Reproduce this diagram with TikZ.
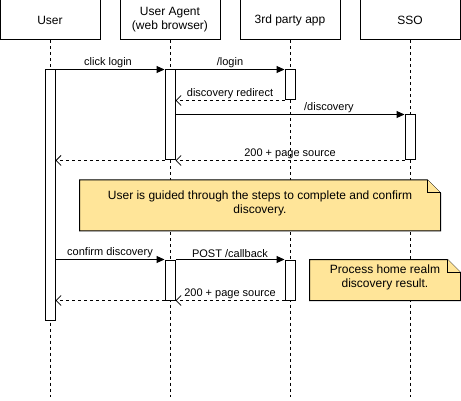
\documentclass[tikz,border=0pt]{standalone}
\usepackage{fontspec}
\setmainfont{Liberation Sans}
\usetikzlibrary{arrows.meta}
\definecolor{notefill}{HTML}{FFE599}
\begin{document}
\begin{tikzpicture}[x=1pt,y=-1pt,line width=1pt,
  actor/.style={draw, fill=white, minimum width=100pt, minimum height=40pt, inner sep=0pt, align=center, font=\fontsize{12}{14}\selectfont},
  act/.style={draw, fill=white, minimum width=10pt, inner sep=0pt},
  life/.style={dash pattern=on 3pt off 3pt},
  call/.style={-{Triangle[length=8pt,width=7pt]}},
  ret/.style={dash pattern=on 3pt off 3pt, -{Straight Barb[length=5pt,width=10pt,line width=0.8pt]}},
  lbl/.style={above, inner sep=1.5pt, font=\fontsize{11}{13}\selectfont},
  notebox/.style={inner sep=0pt, align=center, font=\fontsize{12}{14}\selectfont},
  noteshape/.style={draw, fill=notefill}
]
\useasboundingbox (0,0) rectangle (461,401);

% actors
\node[actor] (user) at (50,20) {User};
\node[actor] (ua) at (170,20) {User Agent\\(web browser)};
\node[actor] (app) at (290,20) {3rd party app};
\node[actor] (sso) at (410,20) {SSO};

% lifelines
\coordinate (userend) at (50,397);
\coordinate (uaend) at (170,397);
\coordinate (append) at (290,397);
\coordinate (ssoend) at (410,397);
\draw[life] (user.south) -- (userend);
\draw[life] (ua.south) -- (uaend);
\draw[life] (app.south) -- (append);
\draw[life] (sso.south) -- (ssoend);

% activations
\node[act, minimum height=250pt] (uact) at (50,195) {};
\node[act, minimum height=90pt] (ua1) at (170,115) {};
\node[act, minimum height=30pt] (p1) at (290,85) {};
\node[act, minimum height=45pt] (sso1) at (410,137.5) {};
\node[act, minimum height=40pt] (ua2) at (170,280) {};
\node[act, minimum height=40pt] (p2) at (290,280) {};

% messages
\draw[call] (uact.east |- ua1.north) -- node[lbl, xshift=-2pt] {click login} (ua1.north west);
\draw[call] (ua1.north east) -- node[lbl] {/login} (p1.north west);
\draw[ret] (p1.south west) -- node[lbl] {discovery redirect} (ua1.east |- p1.south);
\draw[call] (ua1.east |- sso1.north) -- node[lbl, pos=0.67] {/discovery} (sso1.north west);
\draw[ret] (sso1.south west) -- node[lbl] {200 + page source} (ua1.south east);
\draw[ret] (ua1.south west) -- (uact.east |- ua1.south);

\draw[call] (uact.east |- ua2.north) -- node[lbl] {confirm discovery} (ua2.north west);
\draw[call] (ua2.north east) -- node[lbl] {POST /callback} (p2.north west);
\draw[ret] (p2.south west) -- node[lbl] {200 + page source} (ua2.south east);
\draw[ret] (ua2.south west) -- (uact.east |- ua2.south);

% note 1
\node[minimum width=360pt, minimum height=50pt, inner sep=0pt] (n1) at (260,205.5) {};
\draw[noteshape] (n1.north west) -- ([xshift=-13pt]n1.north east) -- ([yshift=-13pt]n1.north east) -- (n1.south east) -- (n1.south west) -- cycle;
\draw[noteshape] ([xshift=-13pt]n1.north east) -- ([xshift=-13pt,yshift=-13pt]n1.north east) -- ([yshift=-13pt]n1.north east);
\node[notebox] (n1t) at (260,203) {User is guided through the steps to complete and confirm\\discovery.};

% note 2
\node[minimum width=150pt, minimum height=40pt, inner sep=0pt] (n2) at (385,280) {};
\draw[noteshape] (n2.north west) -- ([xshift=-13pt]n2.north east) -- ([yshift=-13pt]n2.north east) -- (n2.south east) -- (n2.south west) -- cycle;
\draw[noteshape] ([xshift=-13pt]n2.north east) -- ([xshift=-13pt,yshift=-13pt]n2.north east) -- ([yshift=-13pt]n2.north east);
\node[notebox] (n2t) at (385,277) {Process home realm\\discovery result.};
\end{tikzpicture}
\end{document}
